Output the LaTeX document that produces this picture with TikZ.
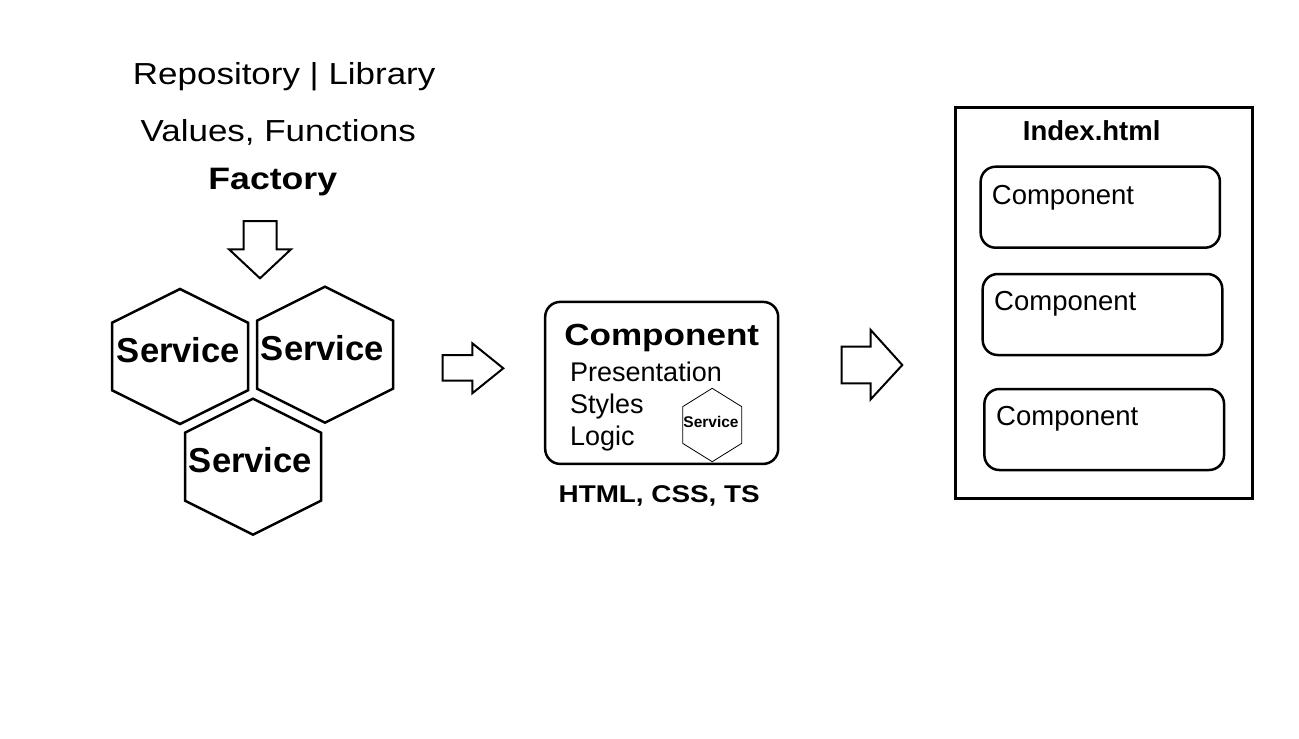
\documentclass[tikz,border=0pt]{standalone}
\usepackage{fontspec}
\setmainfont{Liberation Sans}
\newfontfamily\widefont[FakeStretch=1.15]{Liberation Sans}
\usetikzlibrary{calc}

\tikzset{
  hexline/.style={line width=2.5pt,line join=miter},
  hexthin/.style={line width=0.8pt,line join=miter},
  arrowline/.style={line width=2pt,line join=miter},
  compbox/.style={draw,line width=2.5pt,rounded corners=15pt,inner sep=0pt},
  txt/.style={inner sep=0pt,anchor=base},
  service/.style={txt,font=\bfseries\fontsize{34.6}{40}\selectfont},
  headline/.style={txt,font=\widefont\fontsize{30.4}{36}\selectfont},
  partline/.style={txt,anchor=base west,font=\fontsize{27}{32}\selectfont},
}
% hexagon with pointed top: [style]{centre}{half width}{half height}
\newcommand{\hexcell}[4][]{\draw[#1] (#2) ++(0,-#4) -- ++(#3,#4/2) -- ++(0,#4) -- ++(-#3,#4/2) -- ++(-#3,-#4/2) -- ++(0,-#4) -- cycle;}

\begin{document}
\begin{tikzpicture}[x=1pt,y=-1pt]%
\fill[white] (0,0) rectangle (1299,739);%
\useasboundingbox (0,0) rectangle (1299,739);%
% repository and factory
\node[headline] (repo) at (284.2,84.0) {Repository | Library};%
\node[headline] (values) at (278.3,141.7) {Values, Functions};%
\node[headline,font=\widefont\bfseries\fontsize{31}{36}\selectfont] (factory) at (272.8,189.0) {Factory};%
\draw[arrowline] (243.5,221.0) -- (276.5,221.0) -- (276.5,249.3) -- (291.0,249.3) -- (260.0,278.3) -- (229.0,249.3) -- (243.5,249.3) -- cycle;%
% services
\coordinate (hexa) at (180.0,356.5);%
\coordinate (hexb) at (325.0,354.7);%
\coordinate (hexc) at (253.0,466.7);%
\hexcell[hexline]{hexa}{68}{67.5}%
\hexcell[hexline]{hexb}{68}{68}%
\hexcell[hexline]{hexc}{68}{68}%
\node[service] (srva) at (178.5,362.7) {Service};%
\node[service] (srvb) at (322.5,360.0) {Service};%
\node[service] (srvc) at (250.5,472.7) {Service};%
\draw[arrowline] (442.7,355.0) -- (472.3,355.0) -- (472.3,343.3) -- (503.3,368.3) -- (472.3,393.3) -- (472.3,380.7) -- (442.7,380.7) -- cycle;%
% component
\node[compbox,minimum width=233pt,minimum height=162pt] (comp) at (661.7,382.9) {};%
\node[headline,font=\widefont\bfseries\fontsize{30.5}{36}\selectfont] (comptitle) at (661.7,345.0) {Component};%
\node[partline] (present) at (570.0,381.7) {Presentation};%
\node[partline] (styles) at (570.0,413.3) {Styles};%
\node[partline] (logic) at (570.0,445.0) {Logic};%
\coordinate (hexd) at (712.2,425.0);%
\hexcell[hexthin]{hexd}{29.5}{36.7}%
\node[txt,font=\bfseries\fontsize{15.5}{18}\selectfont] (srvd) at (711.0,427.3) {Service};%
\node[headline,font=\widefont\bfseries\fontsize{24.2}{29}\selectfont] (langs) at (659.2,502.3) {HTML, CSS, TS};%
\draw[arrowline] (841.7,346.7) -- (870.7,346.7) -- (870.7,330.0) -- (902.3,365.0) -- (870.7,399.3) -- (870.7,383.3) -- (841.7,383.3) -- cycle;%
% index page
\node[draw,line width=2.8pt,minimum width=296.6pt,minimum height=391pt,inner sep=0pt] (index) at (1104.0,302.8) {};%
\node[txt,font=\bfseries\fontsize{27.5}{32}\selectfont] (indextitle) at (1091.7,140.7) {Index.html};%
\node[compbox,minimum width=239.3pt,minimum height=81pt] (compa) at (1100.3,207.2) {};%
\node[compbox,minimum width=239.6pt,minimum height=81pt] (compb) at (1102.5,314.5) {};%
\node[compbox,minimum width=239.7pt,minimum height=81pt] (compc) at (1104.2,429.5) {};%
\node[partline,font=\fontsize{27.5}{32}\selectfont] (namea) at (991.7,204.0) {Component};%
\node[partline,font=\fontsize{27.5}{32}\selectfont] (nameb) at (994.0,310.7) {Component};%
\node[partline,font=\fontsize{27.5}{32}\selectfont] (namec) at (996.0,425.7) {Component};%
\end{tikzpicture}
\end{document}
